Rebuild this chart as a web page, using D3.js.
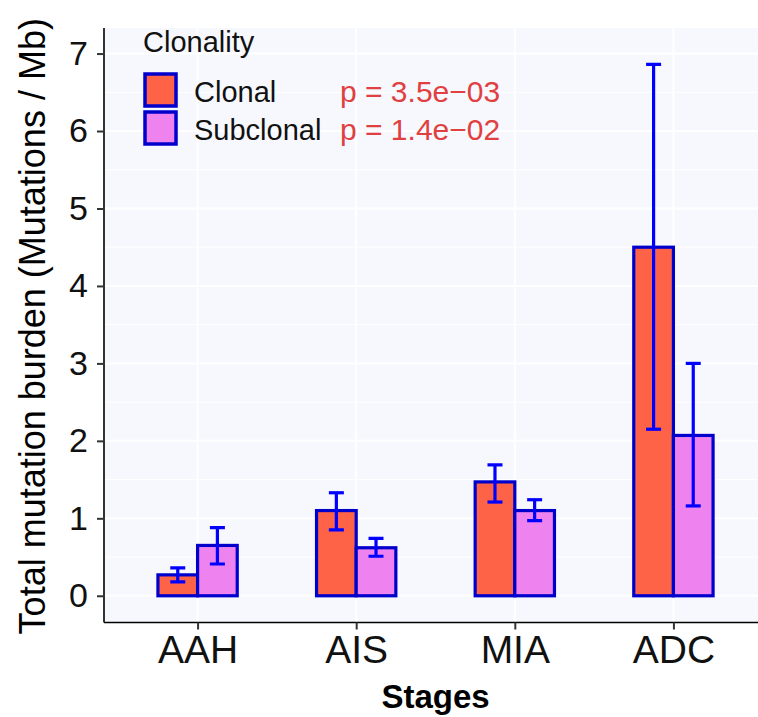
<!DOCTYPE html>
<html>
<head>
<meta charset="utf-8">
<script src="https://cdn.jsdelivr.net/npm/d3@7"></script>
<style>
  html, body { margin: 0; padding: 0; background: #ffffff; }
  svg { display: block; }
  text { font-family: "Liberation Sans", Arial, sans-serif; }
</style>
</head>
<body>
<svg id="chart" width="758" height="717"></svg>
<script>
// Mutation burden per stage, split by clonality (mean with error range)
const stages = ["AAH", "AIS", "MIA", "ADC"];
const clonalMean = [0.27, 1.10, 1.47, 4.50];
const clonalLow = [0.18, 0.85, 1.21, 2.15];
const clonalHigh = [0.36, 1.33, 1.69, 6.86];
const subclonalMean = [0.65, 0.62, 1.10, 2.07];
const subclonalLow = [0.41, 0.51, 0.97, 1.16];
const subclonalHigh = [0.88, 0.74, 1.24, 3.00];
const groups = ["Clonal", "Subclonal"];
const pValues = ["p = 3.5e\u221203", "p = 1.4e\u221202"];
const yTicks = [0, 1, 2, 3, 4, 5, 6, 7];
const yDomain = [-0.345, 7.33];

const fills = { Clonal: "#FF6347", Subclonal: "#EE82EE" };
const outline = "#0000CD";
const errColor = "#0000FF";

const svg = d3.select("#chart");
const panel = { left: 104, right: 767, top: 28, bottom: 622.5 };

const x = d3.scalePoint().domain(stages).range([panel.left, panel.right]).padding(0.59);
const step = x.step();
const dodge = d3.scaleBand().domain(groups).range([-step * 0.25, step * 0.25]).padding(0);
const y = d3.scaleLinear().domain(yDomain).range([panel.bottom, panel.top]);

const rows = [];
stages.forEach((s, i) => {
  rows.push({ stage: s, group: "Clonal", mean: clonalMean[i], lo: clonalLow[i], hi: clonalHigh[i] });
  rows.push({ stage: s, group: "Subclonal", mean: subclonalMean[i], lo: subclonalLow[i], hi: subclonalHigh[i] });
});

// clip region for the plotting panel
svg.append("clipPath").attr("id", "panelClip")
  .append("rect")
  .attr("x", panel.left).attr("y", panel.top)
  .attr("width", panel.right - panel.left).attr("height", panel.bottom - panel.top);

const plot = svg.append("g").attr("clip-path", "url(#panelClip)");

// panel background
plot.append("rect")
  .attr("x", panel.left).attr("y", panel.top)
  .attr("width", panel.right - panel.left).attr("height", panel.bottom - panel.top)
  .attr("fill", "#F7F8FE");

// minor and major horizontal grid
const minor = d3.range(0.5, 7.5, 1).filter(v => v > yDomain[0] && v < yDomain[1]);
plot.selectAll("line.minor").data(minor).join("line")
  .attr("x1", panel.left).attr("x2", panel.right)
  .attr("y1", d => y(d)).attr("y2", d => y(d))
  .attr("stroke", "#ffffff").attr("stroke-width", 1);
plot.selectAll("line.major").data(yTicks).join("line")
  .attr("x1", panel.left).attr("x2", panel.right)
  .attr("y1", d => y(d)).attr("y2", d => y(d))
  .attr("stroke", "#ffffff").attr("stroke-width", 2);
plot.selectAll("line.vgrid").data(stages).join("line")
  .attr("x1", d => x(d)).attr("x2", d => x(d))
  .attr("y1", panel.top).attr("y2", panel.bottom)
  .attr("stroke", "#ffffff").attr("stroke-width", 2);

// bars
plot.selectAll("rect.bar").data(rows).join("rect")
  .attr("class", "bar")
  .attr("x", d => x(d.stage) + dodge(d.group))
  .attr("width", dodge.bandwidth())
  .attr("y", d => y(d.mean))
  .attr("height", d => y(0) - y(d.mean))
  .attr("fill", d => fills[d.group])
  .attr("stroke", outline)
  .attr("stroke-width", 3.2);

// error bars
const capHalf = 7.5;
const eb = plot.selectAll("g.err").data(rows).join("g")
  .attr("transform", d => `translate(${x(d.stage) + dodge(d.group) + dodge.bandwidth() / 2},0)`);
eb.append("line")
  .attr("x1", 0).attr("x2", 0)
  .attr("y1", d => y(d.lo)).attr("y2", d => y(d.hi))
  .attr("stroke", errColor).attr("stroke-width", 3.2);
eb.append("line")
  .attr("x1", -capHalf).attr("x2", capHalf)
  .attr("y1", d => y(d.lo)).attr("y2", d => y(d.lo))
  .attr("stroke", errColor).attr("stroke-width", 3.2);
eb.append("line")
  .attr("x1", -capHalf).attr("x2", capHalf)
  .attr("y1", d => y(d.hi)).attr("y2", d => y(d.hi))
  .attr("stroke", errColor).attr("stroke-width", 3.2);

// y axis
const yAxis = svg.append("g")
  .attr("transform", `translate(${panel.left},0)`)
  .call(d3.axisLeft(y).tickValues(yTicks).tickSize(7).tickPadding(9).tickFormat(d3.format("d")));
yAxis.select(".domain").attr("d", `M0,${panel.top}V${panel.bottom}`).attr("stroke", "#000").attr("stroke-width", 1.6);
yAxis.selectAll(".tick line").attr("stroke", "#333").attr("stroke-width", 2);
yAxis.selectAll(".tick text")
  .attr("font-size", 34).attr("fill", "#111")
  .style("font-family", "'Liberation Sans', Arial, sans-serif");

// x axis
const xAxis = svg.append("g")
  .attr("transform", `translate(0,${panel.bottom})`)
  .call(d3.axisBottom(x).tickSize(7).tickPadding(6));
xAxis.select(".domain").attr("d", `M${panel.left},0H${panel.right}`).attr("stroke", "#000").attr("stroke-width", 1.6);
xAxis.selectAll(".tick line").attr("stroke", "#333").attr("stroke-width", 2);
xAxis.selectAll(".tick text")
  .attr("font-size", 39).attr("fill", "#111")
  .style("font-family", "'Liberation Sans', Arial, sans-serif");

// axis titles
svg.append("text")
  .attr("x", (panel.left + panel.right) / 2).attr("y", 708)
  .attr("text-anchor", "middle")
  .attr("font-size", 33).attr("font-weight", "bold").attr("fill", "#000")
  .text("Stages");

svg.append("text")
  .attr("transform", `translate(45,${(panel.top + panel.bottom) / 2 + 1}) rotate(-90)`)
  .attr("text-anchor", "middle")
  .attr("font-size", 36).attr("fill", "#000")
  .text("Total mutation burden (Mutations / Mb)");

// legend
const legend = svg.append("g");
legend.append("text")
  .attr("x", 143).attr("y", 52)
  .attr("font-size", 29).attr("fill", "#111")
  .text("Clonality");

const keyY = [74, 112];
const items = legend.selectAll("g.item").data(groups).join("g")
  .attr("transform", (d, i) => `translate(145,${keyY[i]})`);
items.append("rect")
  .attr("width", 31).attr("height", 32)
  .attr("fill", d => fills[d])
  .attr("stroke", outline).attr("stroke-width", 3.5);
items.append("text")
  .attr("x", 49).attr("y", 28)
  .attr("font-size", 29).attr("fill", "#111")
  .text(d => d);

legend.selectAll("text.pval").data(pValues).join("text")
  .attr("class", "pval")
  .attr("x", 340).attr("y", (d, i) => keyY[i] + 28)
  .attr("font-size", 30).attr("fill", "#E0403F")
  .text(d => d);
</script>
</body>
</html>
